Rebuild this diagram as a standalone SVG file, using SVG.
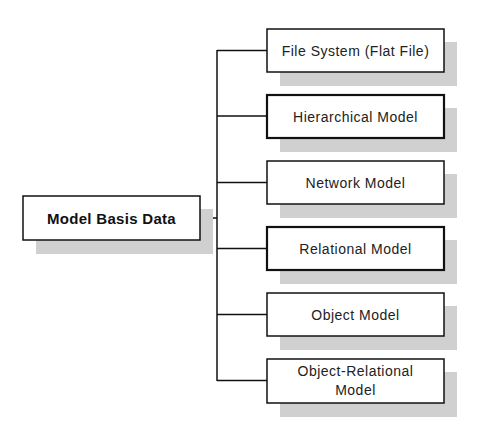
<svg xmlns="http://www.w3.org/2000/svg" width="477" height="432" viewBox="0 0 477 432">
<style>
.shadow{fill:#d0d0d0;stroke:none}
.box{fill:#fff;stroke:#111;stroke-width:1.5}
.thick{stroke-width:2.2}
.lbl{font-family:"Liberation Sans",Arial,sans-serif;font-size:14px;fill:#222;text-anchor:middle;letter-spacing:0.5px}
.main{font-weight:bold;font-size:15px;fill:#111;letter-spacing:0.3px}
.conn{fill:none;stroke:#111;stroke-width:1.5}
</style>
<rect width="477" height="432" fill="#fff"/>
<g id="connectors">
<path class="conn" d="M200,218 H217"/>
<path class="conn" d="M217,50 V381" stroke-width="2.2"/>
<path class="conn" d="M217,50.5 H267 M217,182.5 H267 M217,248.5 H267 M217,314.5 H267 M217,380.5 H267"/>
<path class="conn" d="M217,116 H267" stroke-width="2.2"/>
</g>
<g id="n0">
<rect class="shadow" x="36" y="209" width="177" height="45"/>
<rect class="box" x="23" y="196" width="177" height="44"/>
<text class="lbl main" x="111.5" y="223.5">Model Basis Data</text>
</g>
<g id="n1">
<rect class="shadow" x="280" y="42" width="177" height="44"/>
<rect class="box" x="267" y="29" width="177" height="43"/>
<text class="lbl" x="355.5" y="55.5">File System (Flat File)</text>
</g>
<g id="n2">
<rect class="shadow" x="280" y="108" width="177" height="44"/>
<rect class="box thick" x="267" y="95" width="177" height="43"/>
<text class="lbl" x="355.5" y="121.5">Hierarchical Model</text>
</g>
<g id="n3">
<rect class="shadow" x="280" y="174" width="177" height="44"/>
<rect class="box" x="267" y="161" width="177" height="43"/>
<text class="lbl" x="355.5" y="187.5">Network Model</text>
</g>
<g id="n4">
<rect class="shadow" x="280" y="240" width="177" height="44"/>
<rect class="box thick" x="267" y="227" width="177" height="43"/>
<text class="lbl" x="355.5" y="253.5">Relational Model</text>
</g>
<g id="n5">
<rect class="shadow" x="280" y="306" width="177" height="44"/>
<rect class="box" x="267" y="293" width="177" height="43"/>
<text class="lbl" x="355.5" y="319.5">Object Model</text>
</g>
<g id="n6">
<rect class="shadow" x="280" y="372" width="177" height="45"/>
<rect class="box" x="267" y="359" width="177" height="44"/>
<text class="lbl" x="355.5" y="376">Object-Relational</text>
<text class="lbl" x="355.5" y="394.5">Model</text>
</g>
</svg>
